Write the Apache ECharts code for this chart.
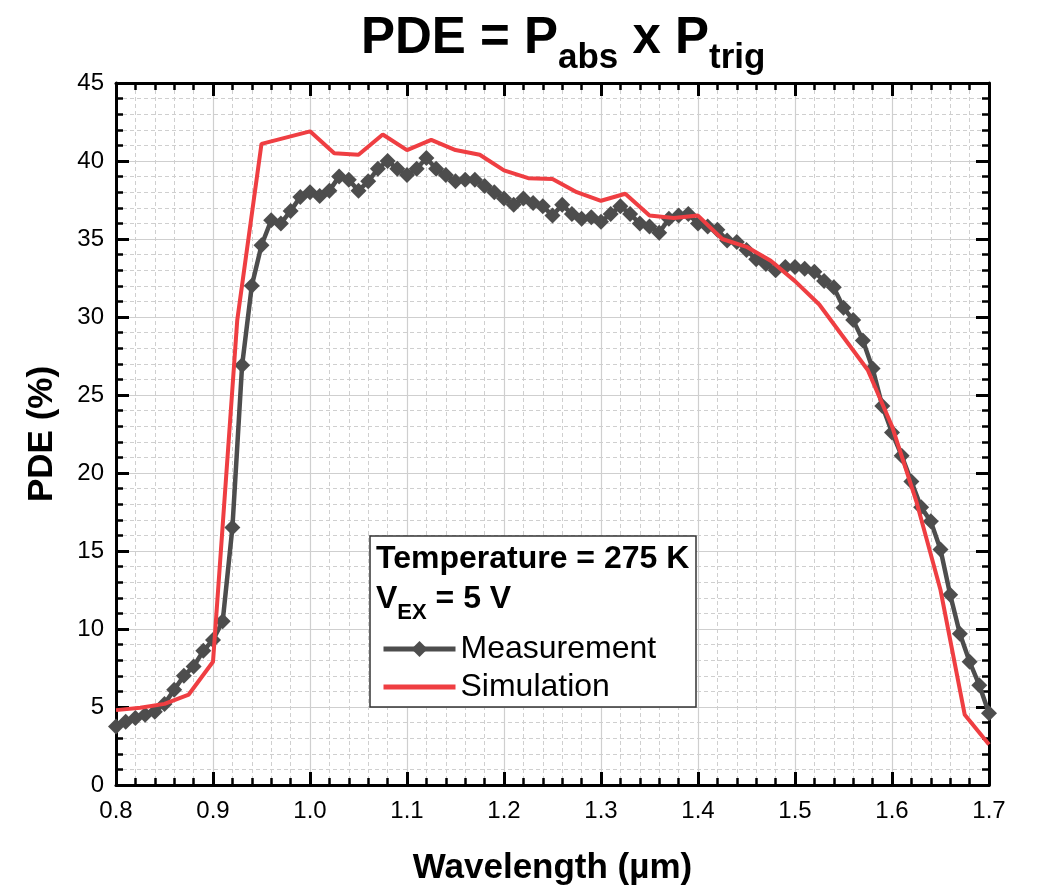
<!DOCTYPE html>
<html>
<head>
<meta charset="utf-8">
<script src="https://cdn.jsdelivr.net/npm/echarts@6/dist/echarts.min.js"></script>
<style>
html,body{margin:0;padding:0;background:#fff;}
#chart{width:1038px;height:893px;}
</style>
</head>
<body>
<div id="chart"></div>
<script>
const wavelengthsMeas = [0.80,0.81,0.82,0.83,0.84,0.85,0.86,0.87,0.88,0.89,
0.90,0.91,0.92,0.93,0.94,0.95,0.96,0.97,0.98,0.99,
1.00,1.01,1.02,1.03,1.04,1.05,1.06,1.07,1.08,1.09,
1.10,1.11,1.12,1.13,1.14,1.15,1.16,1.17,1.18,1.19,
1.20,1.21,1.22,1.23,1.24,1.25,1.26,1.27,1.28,1.29,
1.30,1.31,1.32,1.33,1.34,1.35,1.36,1.37,1.38,1.39,
1.40,1.41,1.42,1.43,1.44,1.45,1.46,1.47,1.48,1.49,
1.50,1.51,1.52,1.53,1.54,1.55,1.56,1.57,1.58,1.59,
1.60,1.61,1.62,1.63,1.64,1.65,1.66,1.67,1.68,1.69,1.70];
const pdeMeas = [3.75,4.05,4.3,4.5,4.7,5.2,6.1,7.0,7.6,8.6,
9.3,10.5,16.5,26.9,32.0,34.6,36.2,36.0,36.8,37.7,
38.0,37.75,38.1,39.0,38.8,38.1,38.7,39.5,40.0,39.5,
39.1,39.5,40.2,39.5,39.1,38.7,38.8,38.8,38.4,38.0,
37.6,37.2,37.6,37.3,37.1,36.5,37.2,36.6,36.3,36.4,
36.1,36.6,37.1,36.6,36.0,35.8,35.4,36.3,36.5,36.6,
36.0,35.8,35.6,34.9,34.8,34.3,33.7,33.4,33.0,33.2,
33.2,33.1,32.9,32.3,31.9,30.6,29.8,28.5,26.7,24.3,
22.6,21.1,19.45,17.8,16.9,15.1,12.2,9.7,7.9,6.4,4.6];
const wavelengthsSim = [0.800,0.825,0.850,0.875,0.900,0.925,0.950,0.975,1.000,1.025,
1.050,1.075,1.100,1.125,1.150,1.175,1.200,1.225,1.250,1.275,
1.300,1.325,1.350,1.375,1.400,1.425,1.450,1.475,1.500,1.525,
1.550,1.575,1.600,1.625,1.650,1.675,1.700];
const pdeSim = [4.8,4.95,5.2,5.8,7.9,29.8,41.1,41.5,41.9,40.5,
40.4,41.7,40.7,41.35,40.7,40.4,39.4,38.9,38.85,38.0,
37.45,37.9,36.5,36.35,36.5,35.0,34.5,33.6,32.3,30.8,
28.7,26.6,23.0,18.2,12.5,4.5,2.6];
const seriesNames = ['Measurement','Simulation'];
const titleParts = ['PDE = P','abs',' x P','trig'];
const annotLine1 = 'Temperature = 275 K';
const xName = 'Wavelength (µm)';
const yName = 'PDE (%)';

const measData = wavelengthsMeas.map((x,i)=>[x,pdeMeas[i]]);
const simData = wavelengthsSim.map((x,i)=>[x,pdeSim[i]]);

const FONT = 'Liberation Sans, Arial, sans-serif';
const chart = echarts.init(document.getElementById('chart'));

const gridLine = {show:true, lineStyle:{color:'#cfcfcf', width:1.2}};
const minorGridLine = {show:true, lineStyle:{color:'#cfcfcf', width:1, type:[4,3]}};
const axLine = {show:true, onZero:false, lineStyle:{color:'#000', width:3}};
const tick = {show:true, inside:true, length:13, lineStyle:{color:'#000', width:3}};
const minorTick = {show:true, splitNumber:5, length:7, lineStyle:{color:'#000', width:2.5}};

chart.setOption({
  animation:false,
  backgroundColor:'#fff',
  title:{
    text:'{m|'+titleParts[0]+'}{s|'+titleParts[1]+'}{m|'+titleParts[2]+'}{s|'+titleParts[3]+'}',
    left:356, top:8,
    textStyle:{
      rich:{
        m:{fontFamily:FONT, fontWeight:'bold', fontSize:51, color:'#000', lineHeight:63, verticalAlign:'top'},
        s:{fontFamily:FONT, fontWeight:'bold', fontSize:35, color:'#000', lineHeight:30, verticalAlign:'bottom'}
      }
    }
  },
  grid:{left:116, right:49, top:83, bottom:108, containLabel:false},
  xAxis:[{
    type:'value', min:0.8, max:1.7, interval:0.1, position:'bottom',
    axisLine:axLine, axisTick:tick, minorTick:minorTick,
    splitLine:gridLine, minorSplitLine:minorGridLine,
    axisLabel:{fontFamily:FONT, fontSize:24, color:'#000', margin:14, formatter:v=>v.toFixed(1)},
    name:xName, nameLocation:'middle', nameGap:66,
    nameTextStyle:{fontFamily:FONT, fontWeight:'bold', fontSize:35, color:'#000'}
  },{
    type:'value', min:0.8, max:1.7, interval:0.1, position:'top',
    axisLine:axLine, axisTick:tick, minorTick:minorTick,
    splitLine:{show:false}, axisLabel:{show:false}
  }],
  yAxis:[{
    type:'value', min:0, max:45, interval:5, position:'left',
    axisLine:axLine, axisTick:tick, minorTick:minorTick,
    splitLine:gridLine, minorSplitLine:minorGridLine,
    axisLabel:{fontFamily:FONT, fontSize:24, color:'#000', margin:12},
    name:yName, nameLocation:'middle', nameGap:56, nameRotate:90,
    nameTextStyle:{fontFamily:FONT, fontWeight:'bold', fontSize:35, color:'#000'}
  },{
    type:'value', min:0, max:45, interval:5, position:'right',
    axisLine:axLine, axisTick:tick, minorTick:minorTick,
    splitLine:{show:false}, axisLabel:{show:false}
  }],
  legend:{
    data:[
      {name:seriesNames[0], lineStyle:{width:5}},
      {name:seriesNames[1], lineStyle:{width:5}, itemStyle:{color:'rgba(0,0,0,0)', borderWidth:0}}
    ],
    orient:'vertical', left:376, top:628,
    itemWidth:72, itemHeight:20, itemGap:6, z:6,
    textStyle:{fontFamily:FONT, fontSize:32, color:'#000'}
  },
  graphic:[
    {type:'rect', z:3, shape:{x:370, y:536, width:326, height:171},
     style:{fill:'#fff', stroke:'#333', lineWidth:1.5}},
    {type:'text', z:7, left:376, top:543,
     style:{text:annotLine1, font:'bold 32px '+FONT, fill:'#000'}},
    {type:'text', z:7, left:376, top:583,
     style:{text:'{v|V}{s|EX}{v| = 5 V}', rich:{
        v:{font:'bold 32px '+FONT, fill:'#000', lineHeight:41, verticalAlign:'top'},
        s:{font:'bold 22px '+FONT, fill:'#000', lineHeight:20, verticalAlign:'bottom'}
     }}}
  ],
  series:[
    {name:seriesNames[0], type:'line', data:measData, xAxisIndex:0, yAxisIndex:0,
     symbol:'diamond', symbolSize:16, showSymbol:true,
     lineStyle:{color:'#4d4d4d', width:4.5}, itemStyle:{color:'#4d4d4d'}, z:3},
    {name:seriesNames[1], type:'line', data:simData, xAxisIndex:0, yAxisIndex:0,
     symbol:'none', lineStyle:{color:'#ef3e42', width:4}, itemStyle:{color:'#ef3e42'}, z:4}
  ]
});
</script>
</body>
</html>
